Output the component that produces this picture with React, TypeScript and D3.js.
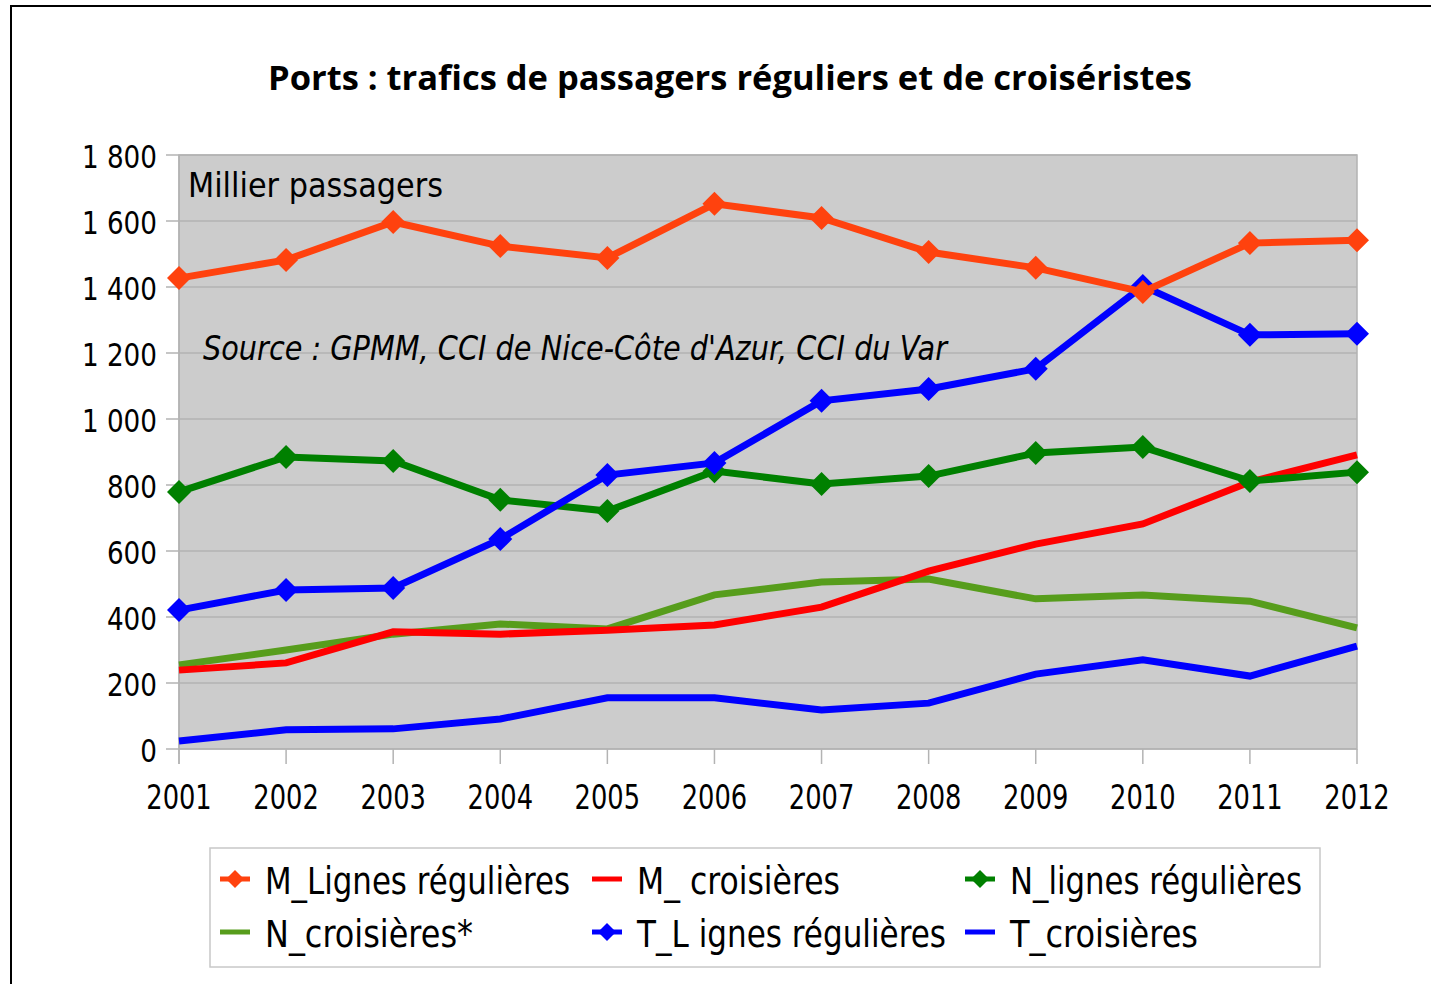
import React from "react";
import * as d3 from "d3";

const years = ["2001","2002","2003","2004","2005","2006","2007","2008","2009","2010","2011","2012"];
const yTicks = [0, 200, 400, 600, 800, 1000, 1200, 1400, 1600, 1800];

const mLignes = [1427, 1482, 1597, 1524, 1488, 1652, 1609, 1506, 1458, 1385, 1533, 1542];
const mCroisieres = [239, 261, 355, 348, 360, 376, 430, 539, 621, 682, 809, 891];
const nLignes = [779, 885, 873, 755, 721, 842, 803, 827, 897, 915, 812, 839];
const nCroisieres = [255, 300, 348, 379, 364, 467, 506, 515, 455, 467, 448, 367];
const tLignes = [421, 482, 488, 636, 830, 867, 1055, 1091, 1152, 1403, 1255, 1258];
const tCroisieres = [24, 58, 61, 91, 155, 155, 118, 139, 227, 270, 221, 312];

const seriesNames = ["M_Lignes régulières", "M_ croisières", "N_lignes régulières", "N_croisières*", "T_L ignes régulières", "T_croisières"];
const seriesData = [mLignes, mCroisieres, nLignes, nCroisieres, tLignes, tCroisieres];
const seriesColors = ["#ff420e", "#ff0000", "#008000", "#579d1c", "#0000ff", "#0000ff"];
const seriesMarkers = [true, false, true, false, true, false];
const legendTextWidths = [305, 203, 292, 208, 309, 188];

const FONT = "'DejaVu Sans', sans-serif";

function CText(props: { x: number; y: number; size: number; sx: number; anchor?: string; children: React.ReactNode }) {
  const { x, y, size, sx, anchor, children } = props;
  return (
    <text transform={`translate(${x},${y}) scale(${sx},1)`} textAnchor={anchor || "start"} fontFamily={FONT} fontSize={size} fill="#000">
      {children}
    </text>
  );
}

function LText(props: { x: number; y: number; size: number; len: number; italic?: boolean; children: React.ReactNode }) {
  const { x, y, size, len, italic, children } = props;
  return (
    <text x={x} y={y} fontFamily={FONT} fontSize={size} fontStyle={italic ? "italic" : "normal"} textLength={len} lengthAdjust="spacingAndGlyphs" fill="#000">
      {children}
    </text>
  );
}

export default function App() {
  const W = 1431, H = 984;
  const left = 179, right = 1357, top = 155, bottom = 749;
  const x = d3.scalePoint<string>().domain(years).range([left, right]);
  const y = d3.scaleLinear().domain([0, 1800]).range([bottom, top]);
  const line = d3.line<number>().x((_, i) => x(years[i])!).y(d => y(d));
  const diamond = (cx: number, cy: number, r: number) =>
    `M${cx},${cy - r}L${cx + r},${cy}L${cx},${cy + r}L${cx - r},${cy}Z`;

  const order = [3, 1, 5, 2, 4, 0];

  const legendCols = [220, 592, 965];
  const legendRows = [879, 932];

  return (
    <svg width={W} height={H} style={{ position: "absolute", left: 0, top: 0, background: "#fff" }}>
      <rect x={0} y={0} width={W} height={H} fill="#fff" />
      <rect x={11} y={6} width={W + 20} height={H + 20} fill="#fff" stroke="#000" strokeWidth={2} />
      <text x={730} y={90} textAnchor="middle" fontFamily="'Open Sans', sans-serif" fontWeight="bold" fontSize={34.5} fill="#000">
        Ports : trafics de passagers réguliers et de croiséristes
      </text>
      <rect x={left} y={top} width={right - left} height={bottom - top} fill="#cccccc" stroke="#b3b3b3" strokeWidth={1.5} />
      {yTicks.map(t => (
        <line key={t} x1={166} x2={right} y1={y(t)} y2={y(t)} stroke="#b3b3b3" strokeWidth={1.5} />
      ))}
      {years.map(yr => (
        <line key={yr} x1={x(yr)} x2={x(yr)} y1={bottom} y2={bottom + 15} stroke="#b3b3b3" strokeWidth={1.5} />
      ))}
      <line x1={left} x2={left} y1={top} y2={bottom + 15} stroke="#b3b3b3" strokeWidth={1.5} />
      {yTicks.map(t => (
        <CText key={t} x={157} y={y(t) + 13} size={32} sx={0.82} anchor="end">
          {d3.format(",")(t).replace(",", " ")}
        </CText>
      ))}
      {years.map(yr => (
        <CText key={yr} x={x(yr)!} y={809} size={33} sx={0.78} anchor="middle">{yr}</CText>
      ))}
      <LText x={188} y={197} size={34} len={255}>Millier passagers</LText>
      <LText x={203} y={360} size={34} len={744} italic>
        Source : GPMM, CCI de Nice-Côte d'Azur, CCI du Var
      </LText>
      {order.map(si => (
        <g key={si}>
          <path d={line(seriesData[si]) || ""} fill="none" stroke={seriesColors[si]} strokeWidth={7} strokeLinejoin="miter" />
          {seriesMarkers[si] && seriesData[si].map((v, i) => (
            <path key={i} d={diamond(x(years[i])!, y(v), 12)} fill={seriesColors[si]} />
          ))}
        </g>
      ))}
      <rect x={210} y={848} width={1110} height={119} fill="#fff" stroke="#c8c8c8" strokeWidth={1.5} />
      {seriesNames.map((name, i) => {
        const cx = legendCols[i % 3];
        const cy = legendRows[Math.floor(i / 3)];
        return (
          <g key={name}>
            <line x1={cx} x2={cx + 30} y1={cy} y2={cy} stroke={seriesColors[i]} strokeWidth={5} />
            {seriesMarkers[i] && <path d={diamond(cx + 15, cy, 9)} fill={seriesColors[i]} />}
            <LText x={cx + 45} y={cy + 15} size={37} len={legendTextWidths[i]}>{name}</LText>
          </g>
        );
      })}
    </svg>
  );
}
